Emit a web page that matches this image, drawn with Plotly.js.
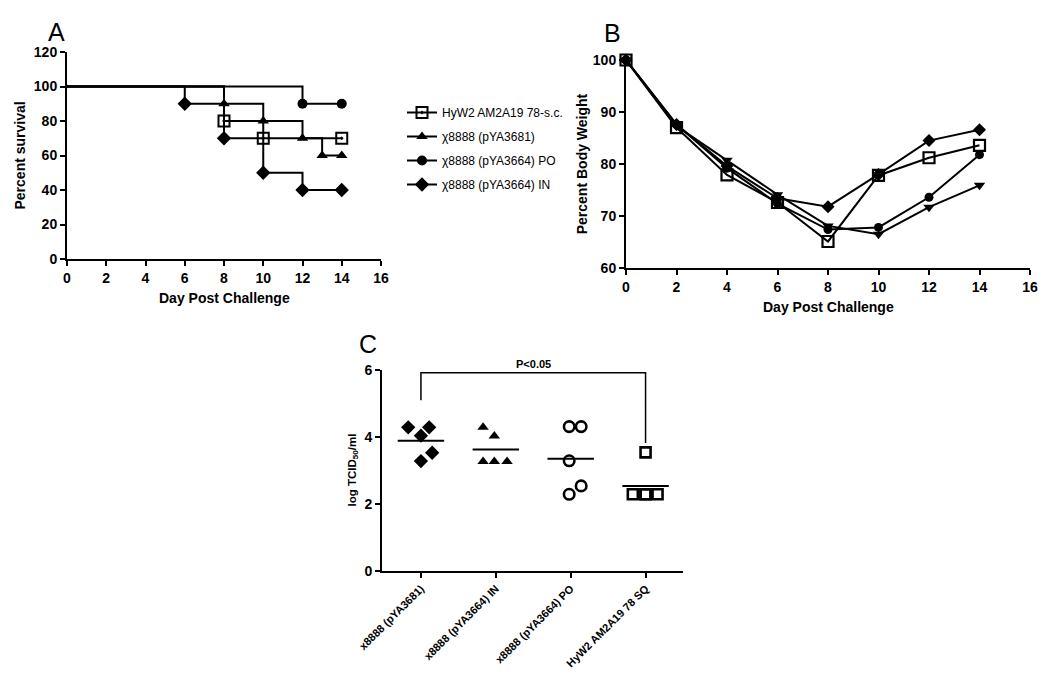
<!DOCTYPE html>
<html><head><meta charset="utf-8">
<script src="https://cdn.plot.ly/plotly-3.0.1.min.js"></script>
<style>html,body{margin:0;padding:0;background:#fff}#chart{width:1050px;height:681px}</style>
</head><body><div id="chart"></div>
<script>
// ---------- Panel A: survival (Kaplan-Meier steps) ----------
const seriesNames = ['HyW2 AM2A19 78-s.c.', '\u03c78888 (pYA3681)', '\u03c78888 (pYA3664) PO', '\u03c78888 (pYA3664) IN'];
const survHyW2Days = [0, 8, 10, 14];
const survHyW2Pct  = [100, 80, 70, 70];
const surv3681Days = [0, 8, 10, 12, 13, 14];
const surv3681Pct  = [100, 90, 80, 70, 60, 60];
const survPODays   = [0, 12, 14];
const survPOPct    = [100, 90, 90];
const survINDays   = [0, 6, 8, 10, 12, 14];
const survINPct    = [100, 90, 70, 50, 40, 40];

// ---------- Panel B: body weight ----------
const weightDays   = [0, 2, 4, 6, 8, 10, 12, 14];
const weightHyW2   = [100, 87.0, 77.9, 72.6, 65.1, 77.8, 81.2, 83.6];
const weight3681   = [100, 87.3, 80.7, 74.1, 68.1, 66.5, 71.7, 75.9];
const weightPO     = [100, 87.6, 79.2, 72.4, 67.4, 67.8, 73.6, 81.8];
const weightIN     = [100, 87.6, 79.6, 73.4, 71.8, 78.0, 84.5, 86.6];

// ---------- Panel C: virus titer ----------
const titerGroups = ['x8888 (pYA3681)', 'x8888 (pYA3664) IN', 'x8888 (pYA3664) PO', 'HyW2 AM2A19 78 SQ'];
const titer3681 = [4.29, 4.29, 4.04, 3.53, 3.28];
const titerIN   = [4.29, 4.03, 3.27, 3.27, 3.27];
const titerPO   = [4.31, 4.31, 3.29, 2.54, 2.29];
const titerHyW2 = [3.54, 2.29, 2.29, 2.29, 2.29];
const sigLabel = 'P<0.05';

// ---------- styling ----------
const F = 'Liberation Sans, Arial, sans-serif';
const BLACK = '#000';
const jitter = [
  [-0.17, 0.11, 0.0, 0.15, 0.0],
  [-0.17, -0.02, -0.17, -0.02, 0.15],
  [-0.02, 0.14, -0.02, 0.14, -0.02],
  [0.0, -0.17, 0.0, 0.16, 0.0]
];

function axis(extra) {
  return Object.assign({
    showline: true, linecolor: BLACK, linewidth: 2,
    ticks: 'outside', ticklen: 5, tickwidth: 2, tickcolor: BLACK,
    showgrid: false, zeroline: false, automargin: false,
    tickfont: {family: F, size: 14, weight: 700, color: BLACK}
  }, extra);
}
function titleFont(sz) { return {family: F, size: sz, weight: 700, color: BLACK}; }

const symA = ['square-open-dot', 'triangle-up', 'circle', 'diamond'];
const sizeA = [11, 10, 10, 11];
const survX = [survHyW2Days, surv3681Days, survPODays, survINDays];
const survY = [survHyW2Pct, surv3681Pct, survPOPct, survINPct];

const traces = [];
// Panel A traces
survX.forEach((xs, i) => {
  traces.push({
    x: xs, y: survY[i], xaxis: 'x', yaxis: 'y', type: 'scatter', mode: 'lines+markers',
    line: {shape: 'hv', color: BLACK, width: 2},
    marker: {symbol: symA[i], size: xs.map((_, k) => k === 0 ? 0 : sizeA[i]), color: BLACK, opacity: 1,
             line: {color: BLACK, width: i === 0 ? 2 : 0}},
    cliponaxis: false, showlegend: false, hoverinfo: 'skip'
  });
});
// Legend entries
seriesNames.forEach((nm, i) => {
  traces.push({
    x: [null], y: [null], xaxis: 'x', yaxis: 'y', type: 'scatter', mode: 'lines+markers',
    name: nm, legendgroup: 'g' + i,
    line: {color: BLACK, width: 2},
    marker: {symbol: symA[i], size: sizeA[i], color: BLACK, opacity: 1, line: {color: BLACK, width: i === 0 ? 2 : 0}}
  });
});

// Panel B traces
const weightY = [weightPO, weight3681, weightIN, weightHyW2];
const symB = ['circle', 'triangle-down', 'diamond', 'square-open'];
const sizeB = [9, 10, 10, 11];
weightY.forEach((ys, i) => {
  traces.push({
    x: weightDays, y: ys, xaxis: 'x2', yaxis: 'y2', type: 'scatter', mode: 'lines+markers',
    line: {color: BLACK, width: 2},
    marker: {symbol: symB[i], size: sizeB[i], color: BLACK, opacity: 1,
             line: {color: BLACK, width: i === 3 ? 2.2 : 0}},
    cliponaxis: false, showlegend: false, hoverinfo: 'skip'
  });
});

// Panel C traces
const titers = [titer3681, titerIN, titerPO, titerHyW2];
const symC = ['diamond', 'triangle-up', 'circle-open', 'square-open'];
const sizeC = [11, 10, 10.5, 10];
titers.forEach((vals, g) => {
  traces.push({
    x: vals.map((_, k) => g + jitter[g][k]), y: vals, xaxis: 'x3', yaxis: 'y3',
    type: 'scatter', mode: 'markers',
    marker: {symbol: symC[g], size: sizeC[g], color: BLACK, opacity: 1,
             line: {color: BLACK, width: g >= 2 ? 2.6 : 0}},
    cliponaxis: false, showlegend: false, hoverinfo: 'skip'
  });
  const m = vals.reduce((a, b) => a + b, 0) / vals.length;
  traces.push({
    x: [g - 0.31, g + 0.31], y: [m, m], xaxis: 'x3', yaxis: 'y3', type: 'scatter', mode: 'lines',
    line: {color: BLACK, width: 2}, showlegend: false, hoverinfo: 'skip'
  });
});

// significance bracket between first and last group
const bracketTop = 5.92;
const bracketLeftLow = 5.1;
const bracketRightLow = 3.82;
traces.push({
  x: [0, 0, titerGroups.length - 1, titerGroups.length - 1],
  y: [bracketLeftLow, bracketTop, bracketTop, bracketRightLow],
  xaxis: 'x3', yaxis: 'y3', type: 'scatter', mode: 'lines',
  line: {color: BLACK, width: 1.5}, showlegend: false, hoverinfo: 'skip', cliponaxis: false
});

const H = 681, W = 1050;
const px = v => v / W;
const py = v => 1 - v / H;

const layout = {
  width: W, height: H,
  margin: {l: 0, r: 0, t: 0, b: 0},
  paper_bgcolor: '#fff', plot_bgcolor: 'rgba(0,0,0,0)',
  showlegend: true,
  legend: {x: px(402), y: py(98), xanchor: 'left', yanchor: 'top',
           font: {family: F, size: 12, color: BLACK}, tracegroupgap: 5,
           bgcolor: 'rgba(0,0,0,0)'},
  xaxis: axis({domain: [px(67), px(381)], anchor: 'y', range: [0, 16], tickvals: [0,2,4,6,8,10,12,14,16]}),
  yaxis: axis({domain: [py(259), py(52)], anchor: 'x', range: [0, 120], tickvals: [0,20,40,60,80,100,120]}),
  xaxis2: axis({domain: [px(626), px(1030)], anchor: 'y2', range: [0, 16], tickvals: [0,2,4,6,8,10,12,14,16]}),
  yaxis2: axis({domain: [py(268), py(60)], anchor: 'x2', range: [60, 100], tickvals: [60,70,80,90,100],
               title: {text: 'Percent Body Weight', font: titleFont(14)}}),
  xaxis3: axis({domain: [px(382), px(683)], anchor: 'y3', range: [-0.52, 3.5],
               tickvals: titerGroups.map((_, i) => i), ticktext: titerGroups, tickangle: -45,
               tickfont: {family: F, size: 11, weight: 700, color: BLACK}}),
  yaxis3: axis({domain: [py(571), py(370)], anchor: 'x3', range: [0, 6], tickvals: [0, 2, 4, 6]}),
  annotations: [
    {text: 'Percent survival', xref: 'paper', yref: 'y', x: px(19), y: 60, xanchor: 'center', yanchor: 'middle',
     textangle: -90, showarrow: false, font: titleFont(14)},
    {text: 'log TCID<sub>50</sub>/ml', xref: 'paper', yref: 'y3', x: px(352), y: 3, xanchor: 'center', yanchor: 'middle',
     textangle: -90, showarrow: false, font: {family: F, size: 11.5, weight: 700, color: BLACK}},
    {text: 'Day Post Challenge', xref: 'x', yref: 'paper', x: 8, y: py(298), yanchor: 'middle', showarrow: false,
     font: titleFont(14)},
    {text: 'Day Post Challenge', xref: 'x2', yref: 'paper', x: 8, y: py(307), yanchor: 'middle', showarrow: false,
     font: titleFont(14)},
    {text: 'A', xref: 'paper', yref: 'paper', x: px(46), y: py(16), xanchor: 'left', yanchor: 'top', showarrow: false,
     font: {family: F, size: 25, color: BLACK}},
    {text: 'B', xref: 'paper', yref: 'paper', x: px(602), y: py(17), xanchor: 'left', yanchor: 'top', showarrow: false,
     font: {family: F, size: 25, color: BLACK}},
    {text: 'C', xref: 'paper', yref: 'paper', x: px(357), y: py(328), xanchor: 'left', yanchor: 'top', showarrow: false,
     font: {family: F, size: 25, color: BLACK}},
    {text: sigLabel, xref: 'x3', yref: 'y3', x: (titerGroups.length - 1) / 2, y: bracketTop, yanchor: 'bottom',
     showarrow: false, yshift: 1, font: {family: F, size: 11, weight: 700, color: BLACK}}
  ]
};

Plotly.newPlot('chart', traces, layout, {staticPlot: true});
</script>
</body></html>
